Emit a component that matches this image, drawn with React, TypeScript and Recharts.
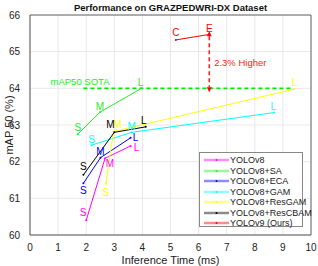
import React from "react";
import {
  LineChart,
  Line,
  XAxis,
  YAxis,
  CartesianGrid,
  ReferenceLine,
  ReferenceDot,
  Label,
} from "recharts";

const sizeLabels = ["S", "M", "L"];
const yoloV9Labels = ["C", "E"];

const yolov8Time = [2.0, 2.67, 3.58];
const yolov8Map = [60.4, 62.09, 62.43];
const saTime = [1.7, 2.49, 3.97];
const saMap = [62.75, 63.35, 64.0];
const ecaTime = [1.9, 2.51, 3.58];
const ecaMap = [61.41, 62.11, 62.65];
const gamTime = [2.19, 3.62, 8.69];
const gamMap = [62.45, 62.8, 63.34];
const resGamTime = [2.7, 2.97, 9.41];
const resGamMap = [61.39, 62.82, 63.98];
const resCbamTime = [1.9, 3.0, 4.12];
const resCbamMap = [61.64, 62.8, 62.95];
const yolov9Time = [5.19, 6.38];
const yolov9Map = [65.32, 65.47];

const sotaTime = [1.9, 9.37];
const sotaMap = [64.0, 64.0];
const arrowTime = [6.38, 6.38];
const arrowMap = [65.42, 64.03];

const xTicks = [0, 1, 2, 3, 4, 5, 6, 7, 8, 9, 10];
const yTicks = [60, 61, 62, 63, 64, 65, 66];

const toPoints = (xs: number[], ys: number[]) => xs.map((x, i) => ({ x, y: ys[i] }));

const series = [
  { name: "YOLOv8", color: "#ff00ff", data: toPoints(yolov8Time, yolov8Map), labels: sizeLabels },
  { name: "YOLOv8+SA", color: "#22ee22", data: toPoints(saTime, saMap), labels: sizeLabels },
  { name: "YOLOv8+ECA", color: "#0000ff", data: toPoints(ecaTime, ecaMap), labels: sizeLabels },
  { name: "YOLOv8+GAM", color: "#00ffff", data: toPoints(gamTime, gamMap), labels: sizeLabels },
  { name: "YOLOv8+ResGAM", color: "#ffff00", data: toPoints(resGamTime, resGamMap), labels: sizeLabels },
  { name: "YOLOv8+ResCBAM", color: "#000000", data: toPoints(resCbamTime, resCbamMap), labels: sizeLabels },
  { name: "YOLOv9 (Ours)", color: "#ff0000", data: toPoints(yolov9Time, yolov9Map), labels: yoloV9Labels },
];

// where each point's S/M/L text sits relative to the dot
const labelOffsets: Record<string, [number, number][]> = {
  "YOLOv8": [[-3, -8], [5, 5], [6, 2]],
  "YOLOv8+SA": [[0, -7], [0, -6], [-1, -6]],
  "YOLOv8+ECA": [[0, 7], [0, -6], [5, 0]],
  "YOLOv8+GAM": [[0, -6], [0, -6], [-1, -6]],
  "YOLOv8+ResGAM": [[0, 8], [4, -7], [0, -7]],
  "YOLOv8+ResCBAM": [[0, -8], [-4, -8], [-2, -6]],
  "YOLOv9 (Ours)": [[0, -7], [0, -6]],
};

const font = "'Liberation Sans', Arial, Helvetica, sans-serif";

const makeDot = (name: string, color: string, labels: string[]) => (props: any) => {
  const { cx, cy, index } = props;
  const [dx, dy] = labelOffsets[name]?.[index] ?? [0, -7];
  return (
    <g key={`${name}-${index}`}>
      <circle cx={cx} cy={cy} r={1} fill={color} />
      <text
        x={cx + dx}
        y={cy + dy}
        textAnchor="middle"
        dominantBaseline="central"
        fontSize={10}
        fontFamily={font}
        fill={color}
      >
        {labels[index]}
      </text>
    </g>
  );
};

const arrowHead = (props: any) => {
  const { cx, cy, index } = props;
  const d = index === 0 ? -1 : 1;
  const pts = `${cx - 2.5},${cy} ${cx + 2.5},${cy} ${cx},${cy + d * 5}`;
  return <polygon key={`arrow-${index}`} points={pts} fill="#ff0000" />;
};

export default function App() {
  return (
    <div
      style={{
        position: "absolute",
        left: 0,
        top: 0,
        width: 318,
        height: 266,
        background: "#fff",
        fontFamily: font,
      }}
    >
      <div
        style={{
          position: "absolute",
          left: 30,
          width: 281,
          top: 0,
          textAlign: "center",
          fontSize: 9.5,
          fontWeight: "bold",
          lineHeight: "15px",
          color: "#111",
        }}
      >
        Performance on GRAZPEDWRI-DX Dataset
      </div>
      <LineChart
        width={318}
        height={266}
        margin={{ top: 15, right: 7, bottom: 0, left: 0 }}
        style={{ position: "absolute", left: 0, top: 0 }}
      >
        <CartesianGrid stroke="#e8e8e8" />
        <XAxis
          type="number"
          dataKey="x"
          domain={[0, 10]}
          ticks={xTicks}
          height={31}
          stroke="#555"
          tickLine={false}
          tick={{ fill: "#222", fontSize: 10, fontFamily: font }}
          tickMargin={3}
          allowDataOverflow
        >
          <Label
            value="Inference Time (ms)"
            position="insideBottom"
            offset={2}
            style={{ fill: "#222", fontSize: 11, fontFamily: font }}
          />
        </XAxis>
        <YAxis
          type="number"
          domain={[60, 66]}
          ticks={yTicks}
          width={30}
          stroke="#555"
          tickLine={false}
          tick={{ fill: "#222", fontSize: 10, fontFamily: font }}
          tickMargin={4}
          allowDataOverflow
        >
          <Label
            value="mAP 50 (%)"
            angle={-90}
            position="insideLeft"
            offset={9}
            style={{ fill: "#222", fontSize: 11, fontFamily: font, textAnchor: "middle" }}
          />
        </YAxis>
        <ReferenceLine y={66} stroke="#666" />
        <ReferenceLine x={10} stroke="#666" />

        <Line
          data={toPoints(sotaTime, sotaMap)}
          dataKey="y"
          stroke="#00ee00"
          strokeWidth={1.6}
          strokeDasharray="4 3"
          dot={false}
          isAnimationActive={false}
        />
        <Line
          data={toPoints(arrowTime, arrowMap)}
          dataKey="y"
          stroke="#ff2222"
          strokeWidth={1.6}
          strokeDasharray="4 3"
          dot={arrowHead}
          isAnimationActive={false}
        />
        {series.map((s) => (
          <Line
            key={s.name}
            data={s.data}
            dataKey="y"
            name={s.name}
            stroke={s.color}
            strokeWidth={1}
            dot={makeDot(s.name, s.color, s.labels)}
            isAnimationActive={false}
          />
        ))}
        <ReferenceDot
          x={1.78}
          y={64.19}
          r={0.1}
          fill="none"
          stroke="none"
          label={{ value: "mAP50 SOTA", fill: "#22ee22", fontSize: 9.5, fontFamily: font, position: "center" }}
        />
        <ReferenceDot
          x={6.55}
          y={64.7}
          r={0.1}
          fill="none"
          stroke="none"
          label={{ value: "2.3% Higher", fill: "#ff2222", fontSize: 9.5, fontFamily: font, position: "right", offset: 0 }}
        />
      </LineChart>
      <div
        style={{
          position: "absolute",
          left: 199,
          top: 152,
          width: 104,
          height: 75,
          border: "1px solid #888",
          background: "#fff",
          paddingTop: 2,
          boxSizing: "border-box",
        }}
      >
        {series.map((s) => (
          <div
            key={s.name}
            style={{ display: "flex", alignItems: "center", height: 10.5 }}
          >
            <svg width={30} height={10} style={{ flex: "none" }}>
              <line x1={4} y1={5} x2={29} y2={5} stroke={s.color} strokeOpacity={0.45} strokeWidth={2.5} />
              <circle cx={16.5} cy={5} r={1} fill={s.color} />
            </svg>
            <span style={{ fontSize: 9, color: "#222", whiteSpace: "nowrap" }}>{s.name}</span>
          </div>
        ))}
      </div>
    </div>
  );
}
